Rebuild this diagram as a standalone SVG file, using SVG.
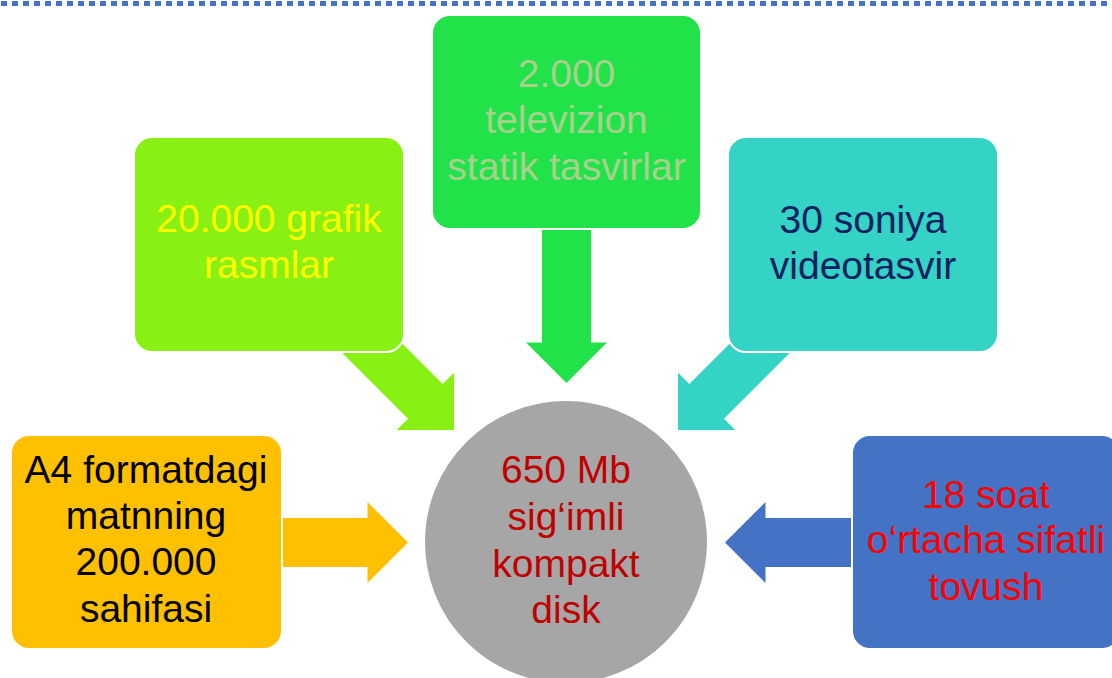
<svg xmlns="http://www.w3.org/2000/svg" xmlns:xlink="http://www.w3.org/1999/xlink" width="1112" height="678" viewBox="0 0 1112 678">
<style>
.box{stroke:#ffffff;stroke-width:2}
.t{font-family:"Liberation Sans",Arial,sans-serif;font-size:39px;text-anchor:middle}
</style>
<defs>
<path id="arr" d="M-160,-24.5 L-40.5,-24.5 L-40.5,-40.5 L0,0 L-40.5,40.5 L-40.5,24.5 L-160,24.5 Z"/>
</defs>
<rect width="1112" height="678" fill="#ffffff"/>
<line x1="1" y1="3.5" x2="1112" y2="3.5" stroke="#4472C4" stroke-width="5" stroke-dasharray="6 5"/>
<g id="connectors">
<use xlink:href="#arr" transform="translate(566.5,383) rotate(90)" fill="#22E24A"/>
<use xlink:href="#arr" transform="translate(454,430) rotate(45)" fill="#88F012"/>
<use xlink:href="#arr" transform="translate(678,430) rotate(135)" fill="#35D3C5"/>
<use xlink:href="#arr" transform="translate(408,542.5)" fill="#FFC000"/>
<use xlink:href="#arr" transform="translate(725,542.5) rotate(180)" fill="#4472C4"/>
</g>
<g id="top">
<rect class="box" x="432" y="15" width="269" height="214" rx="18" fill="#22E24A"/>
<text class="t" fill="#A9D18E"><tspan x="566.5" y="87">2.000</tspan><tspan x="566.5" y="133">televizion</tspan><tspan x="566.5" y="180">statik tasvirlar</tspan></text>
</g>
<g id="graphics">
<rect class="box" x="134" y="137" width="270" height="215" rx="18" fill="#88F012"/>
<text class="t" fill="#FFFF00"><tspan x="269" y="232">20.000 grafik</tspan><tspan x="269" y="278">rasmlar</tspan></text>
</g>
<g id="video">
<rect class="box" x="728" y="137" width="270" height="215" rx="18" fill="#35D3C5"/>
<text class="t" fill="#002060"><tspan x="863" y="233">30 soniya</tspan><tspan x="863" y="279">videotasvir</tspan></text>
</g>
<g id="text-pages">
<rect class="box" x="11" y="435" width="271" height="214" rx="18" fill="#FFC000"/>
<text class="t" fill="#000000"><tspan x="146" y="483">A4 formatdagi</tspan><tspan x="146" y="529">matnning</tspan><tspan x="146" y="575">200.000</tspan><tspan x="146" y="622">sahifasi</tspan></text>
</g>
<g id="audio">
<rect class="box" x="852" y="435" width="268" height="214" rx="18" fill="#4472C4"/>
<text class="t" fill="#FF0000"><tspan x="986" y="508">18 soat</tspan><tspan x="986" y="553">o‘rtacha sifatli</tspan><tspan x="986" y="600">tovush</tspan></text>
</g>
<g id="disk">
<circle cx="566" cy="542" r="142" fill="#A6A6A6" stroke="#ffffff" stroke-width="2"/>
<text class="t" fill="#C00000"><tspan x="566" y="483">650 Mb</tspan><tspan x="566" y="530">sig‘imli</tspan><tspan x="566" y="577">kompakt</tspan><tspan x="566" y="623">disk</tspan></text>
</g>
</svg>
